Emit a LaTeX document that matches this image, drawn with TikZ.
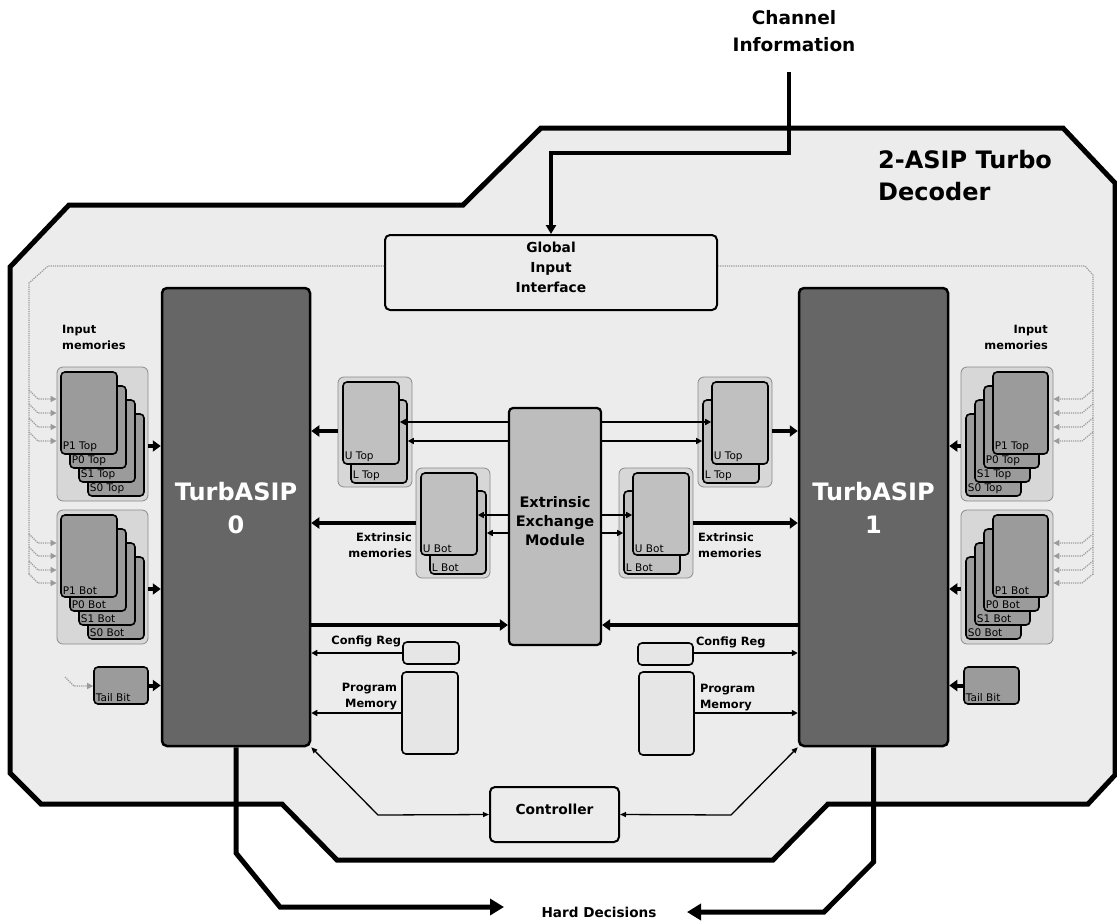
\documentclass[tikz,border=0pt]{standalone}
\usepackage{fontspec}
\setsansfont{DejaVu Sans}
\usetikzlibrary{arrows.meta,positioning,fit}
\definecolor{shell}{HTML}{ECECEC}
\definecolor{asip}{HTML}{666666}
\definecolor{inmem}{HTML}{9B9B9B}
\definecolor{bank}{HTML}{D7D7D7}
\definecolor{bankline}{HTML}{8A8A8A}
\definecolor{exmem}{HTML}{C0C0C0}
\definecolor{eemfill}{HTML}{BDBDBD}
\definecolor{regfill}{HTML}{E6E6E6}
\definecolor{busline}{HTML}{9A9A9A}

\begin{document}
\begin{tikzpicture}[
  x=1pt, y=-1pt,
  font=\sffamily,
  asipbox/.style={draw, line width=2.5pt, rounded corners=5pt, fill=asip, inner sep=0pt, text=white, align=center, font=\sffamily\bfseries\fontsize{24}{33}\selectfont},
  eembox/.style={draw, line width=2.2pt, rounded corners=4pt, fill=eemfill, inner sep=0pt, align=center, font=\sffamily\bfseries\fontsize{14.5}{19}\selectfont},
  plainbox/.style={draw, line width=2pt, rounded corners=5pt, fill=shell, inner sep=0pt, align=center, font=\sffamily\bfseries\fontsize{13.8}{20}\selectfont},
  regbox/.style={draw, line width=1.6pt, rounded corners=4pt, fill=regfill, inner sep=0pt},
  bank/.style={draw=bankline, line width=0.8pt, rounded corners=6pt, fill=bank, inner sep=0pt},
  card/.style={draw, line width=1.6pt, rounded corners=4pt, fill=inmem, inner sep=0pt},
  xcard/.style={card, fill=exmem},
  cardtxt/.style={anchor=south west, inner sep=2.5pt, font=\sffamily\fontsize{10.5}{12}\selectfont},
  lbl/.style={inner sep=0pt, font=\sffamily\bfseries\fontsize{11.4}{16}\selectfont},
  title/.style={inner sep=0pt, align=left, font=\sffamily\bfseries\fontsize{24}{32}\selectfont},
  bus/.style={draw=busline, line width=1.2pt, densely dotted},
  busarrow/.style={bus, -{Triangle[length=6pt,width=6pt,fill=busline]}},
  fatarrow/.style={line width=4pt, -{Triangle[length=8pt,width=11pt]}},
  thinarrow/.style={line width=1.5pt, -{Triangle[length=6pt,width=6pt]}},
  ctrlarrow/.style={line width=1.3pt, {Triangle[length=6pt,width=5pt]}-{Triangle[length=6pt,width=5pt]}},
  bigarrow/.style={line width=5pt, line join=miter, -{Triangle[length=14pt,width=16pt]}}
]
  \fill[white] (0,0) rectangle (1117,922);
  \useasboundingbox (0,0) rectangle (1117,922);

  \draw[line width=5pt, line join=miter, fill=shell] (69,205) -- (463,205) -- (541,128) -- (1063,128) -- (1115,183) -- (1115,775)
    -- (1088,804) -- (828,804) -- (773,860) -- (337,860) -- (282,804) -- (41,804) -- (10,773) -- (10,267) -- cycle;

  \node[title, anchor=west] (title) at (878,176) {2-ASIP Turbo\\Decoder};
  \node[lbl, align=center, font=\sffamily\bfseries\fontsize{18.5}{27}\selectfont] (chan) at (794,31) {Channel\\Information};

  \node[plainbox, fit={(385,235) (717,310)}] (gii) {Global\\Input\\Interface};
  \draw[bus] (gii.west |- 0,266) -- (48,266) -- (29,283) -- (29,575);
  \draw[bus] (gii.east |- 0,266) -- (1085,266) -- (1093,275) -- (1093,575);

  \node[asipbox, fit={(162,288) (310,746)}] (asip0) {TurbASIP\\0};
  \node[asipbox, fit={(799,288) (948,746)}] (asip1) {TurbASIP\\1};

  \node[lbl, align=left, anchor=west] (inLlbl) at (62,337) {Input\\memories};
  \node[lbl, align=right, anchor=east] (inRlbl) at (1048,337) {Input\\memories};

  \foreach \grp/\hlf/\ytop in {T/Top/372,B/Bot/515}{
    \node[bank, fit={(57,{\ytop-5}) (148,{\ytop+129})}] (inL\grp) {};
    \node[bank, fit={(961,{\ytop-5}) (1053,{\ytop+129})}] (inR\grp) {};
    \foreach \nm/\k in {S0/3,S1/2,P0/1,P1/0}{
      \node[card, fit={({61+9*\k},{\ytop+14*\k}) ({117+9*\k},{\ytop+82+14*\k})},
        label={[cardtxt]south west:\nm\ \hlf}] (inL\grp\k) {};
      \node[card, fit={({993-9*\k},{\ytop+14*\k}) ({1048-9*\k},{\ytop+82+14*\k})},
        label={[cardtxt]south west:\nm\ \hlf}] (inR\grp\k) {};
    }
  }

  \foreach \y in {399,413,427,441,543,556,570,583}{
    \draw[busarrow] (29,\y-9) -- (38,\y) -- (inLT.west |- 0,\y);
    \draw[busarrow] (1093,\y-9) -- (1082,\y) -- (inRT.east |- 0,\y);
  }

  \node[card, fit={(94,667) (148,704)}, label={[cardtxt]south west:Tail Bit}] (tailL) {};
  \node[card, fit={(964,667) (1019,704)}, label={[cardtxt]south west:Tail Bit}] (tailR) {};
  \coordinate (tailstub) at (65,677);
  \draw[busarrow] (tailstub) -- (74,686) -- (tailL.west |- 0,686);

  \foreach \nm/\hlf/\gx/\gy/\ux/\lx in {TL/Top/338/377/343/351, BL/Bot/416/468/421/430, TR/Top/698/377/712/703, BR/Bot/619/468/633/624}{
    \node[bank, fit={(\gx,\gy) ({\gx+74},{\gy+110})}] (ext\nm) {};
    \node[xcard, fit={(\lx,{\gy+23}) ({\lx+56},{\gy+106})}, label={[cardtxt]south west:L \hlf}] (ext\nm-l) {};
    \node[xcard, fit={(\ux,{\gy+5}) ({\ux+56},{\gy+87})}, label={[cardtxt]south west:U \hlf}] (ext\nm-u) {};
  }
  \node[lbl, align=right, anchor=east] (extLlbl) at (412,545) {Extrinsic\\memories};
  \node[lbl, align=left, anchor=west] (extRlbl) at (698,545) {Extrinsic\\memories};

  \node[eembox, fit={(509,408) (601,645)}] (eem) {Extrinsic\\Exchange\\Module};

  \node[regbox, fit={(403,642) (459,664)}] (cfgL) {};
  \node[regbox, fit={(402,672) (458,754)}] (prgL) {};
  \node[regbox, fit={(638,643) (693,665)}] (cfgR) {};
  \node[regbox, fit={(639,672) (694,755)}] (prgR) {};
  \node[lbl, left=1pt of cfgL.north west] (cfgLlbl) {Config Reg};
  \node[lbl, right=2pt of cfgR.north east] (cfgRlbl) {Config Reg};
  \node[lbl, align=right, left=4pt of prgL.west, yshift=16pt] (prgLlbl) {Program\\Memory};
  \node[lbl, align=left, right=5pt of prgR.west -| prgR.east, yshift=16pt] (prgRlbl) {Program\\Memory};

  \node[plainbox, fit={(490,787) (619,842)}] (ctrl) {Controller};
  \node[lbl, font=\sffamily\bfseries\fontsize{13.6}{16}\selectfont] (hard) at (599,912) {Hard Decisions};

  \draw[fatarrow] (inLT.east |- 0,446) -- (asip0.west |- 0,446);
  \draw[fatarrow] (inLB.east |- 0,589) -- (asip0.west |- 0,589);
  \draw[fatarrow] (inRT.west |- 0,446) -- (asip1.east |- 0,446);
  \draw[fatarrow] (inRB.west |- 0,589) -- (asip1.east |- 0,589);
  \draw[fatarrow] (tailL.east) -- (tailL.east -| asip0.west);
  \draw[fatarrow] (tailR.west) -- (tailR.west -| asip1.east);

  \draw[fatarrow] (extTL.west |- 0,431) -- (asip0.east |- 0,431);
  \draw[fatarrow] (extBL.west |- 0,523) -- (asip0.east |- 0,523);
  \draw[fatarrow] (extTR.east |- 0,431) -- (asip1.west |- 0,431);
  \draw[fatarrow] (extBR.east |- 0,523) -- (asip1.west |- 0,523);
  \draw[fatarrow] (asip0.east |- 0,625) -- (eem.west |- 0,625);
  \draw[fatarrow] (asip1.west |- 0,625) -- (eem.east |- 0,625);

  \draw[thinarrow] (eem.west |- 0,422) -- (extTL-u.east |- 0,422);
  \draw[thinarrow] (eem.west |- 0,441) -- (extTL-l.east |- 0,441);
  \draw[thinarrow] (eem.west |- 0,515) -- (extBL-u.east |- 0,515);
  \draw[thinarrow] (eem.west |- 0,533) -- (extBL-l.east |- 0,533);
  \draw[thinarrow] (eem.east |- 0,422) -- (extTR-u.west |- 0,422);
  \draw[thinarrow] (eem.east |- 0,441) -- (extTR-l.west |- 0,441);
  \draw[thinarrow] (eem.east |- 0,515) -- (extBR-u.west |- 0,515);
  \draw[thinarrow] (eem.east |- 0,533) -- (extBR-l.west |- 0,533);

  \draw[thinarrow] (cfgL.west |- 0,653) -- (asip0.east |- 0,653);
  \draw[thinarrow] (prgL.west |- 0,713) -- (asip0.east |- 0,713);
  \draw[thinarrow] (cfgR.east |- 0,653) -- (asip1.west |- 0,653);
  \draw[thinarrow] (prgR.east |- 0,713) -- (asip1.west |- 0,713);

  \coordinate (ctrlbendL) at (378,815);
  \coordinate (ctrlbendR) at (731,815);
  \draw[ctrlarrow] (asip0.south east) -- (ctrlbendL) -- (ctrl.west);
  \draw[ctrlarrow] (asip1.south west) -- (ctrlbendR) -- (ctrl.east);

  \coordinate (chanfoot) at (789,72);
  \draw[line width=4pt, -{Triangle[length=9pt,width=10pt]}] (chanfoot) -- (789,153) -- (gii.north |- 0,153) -- (gii.north);

  \coordinate (hardL) at (504,907);
  \coordinate (hardR) at (687,912);
  \draw[bigarrow] (asip0.south) -- (asip0.south |- 0,853) -- (280,907) -- (hardL);
  \draw[bigarrow] (asip1.south) -- (asip1.south |- 0,862) -- (824,912) -- (hardR);
\end{tikzpicture}
\end{document}
